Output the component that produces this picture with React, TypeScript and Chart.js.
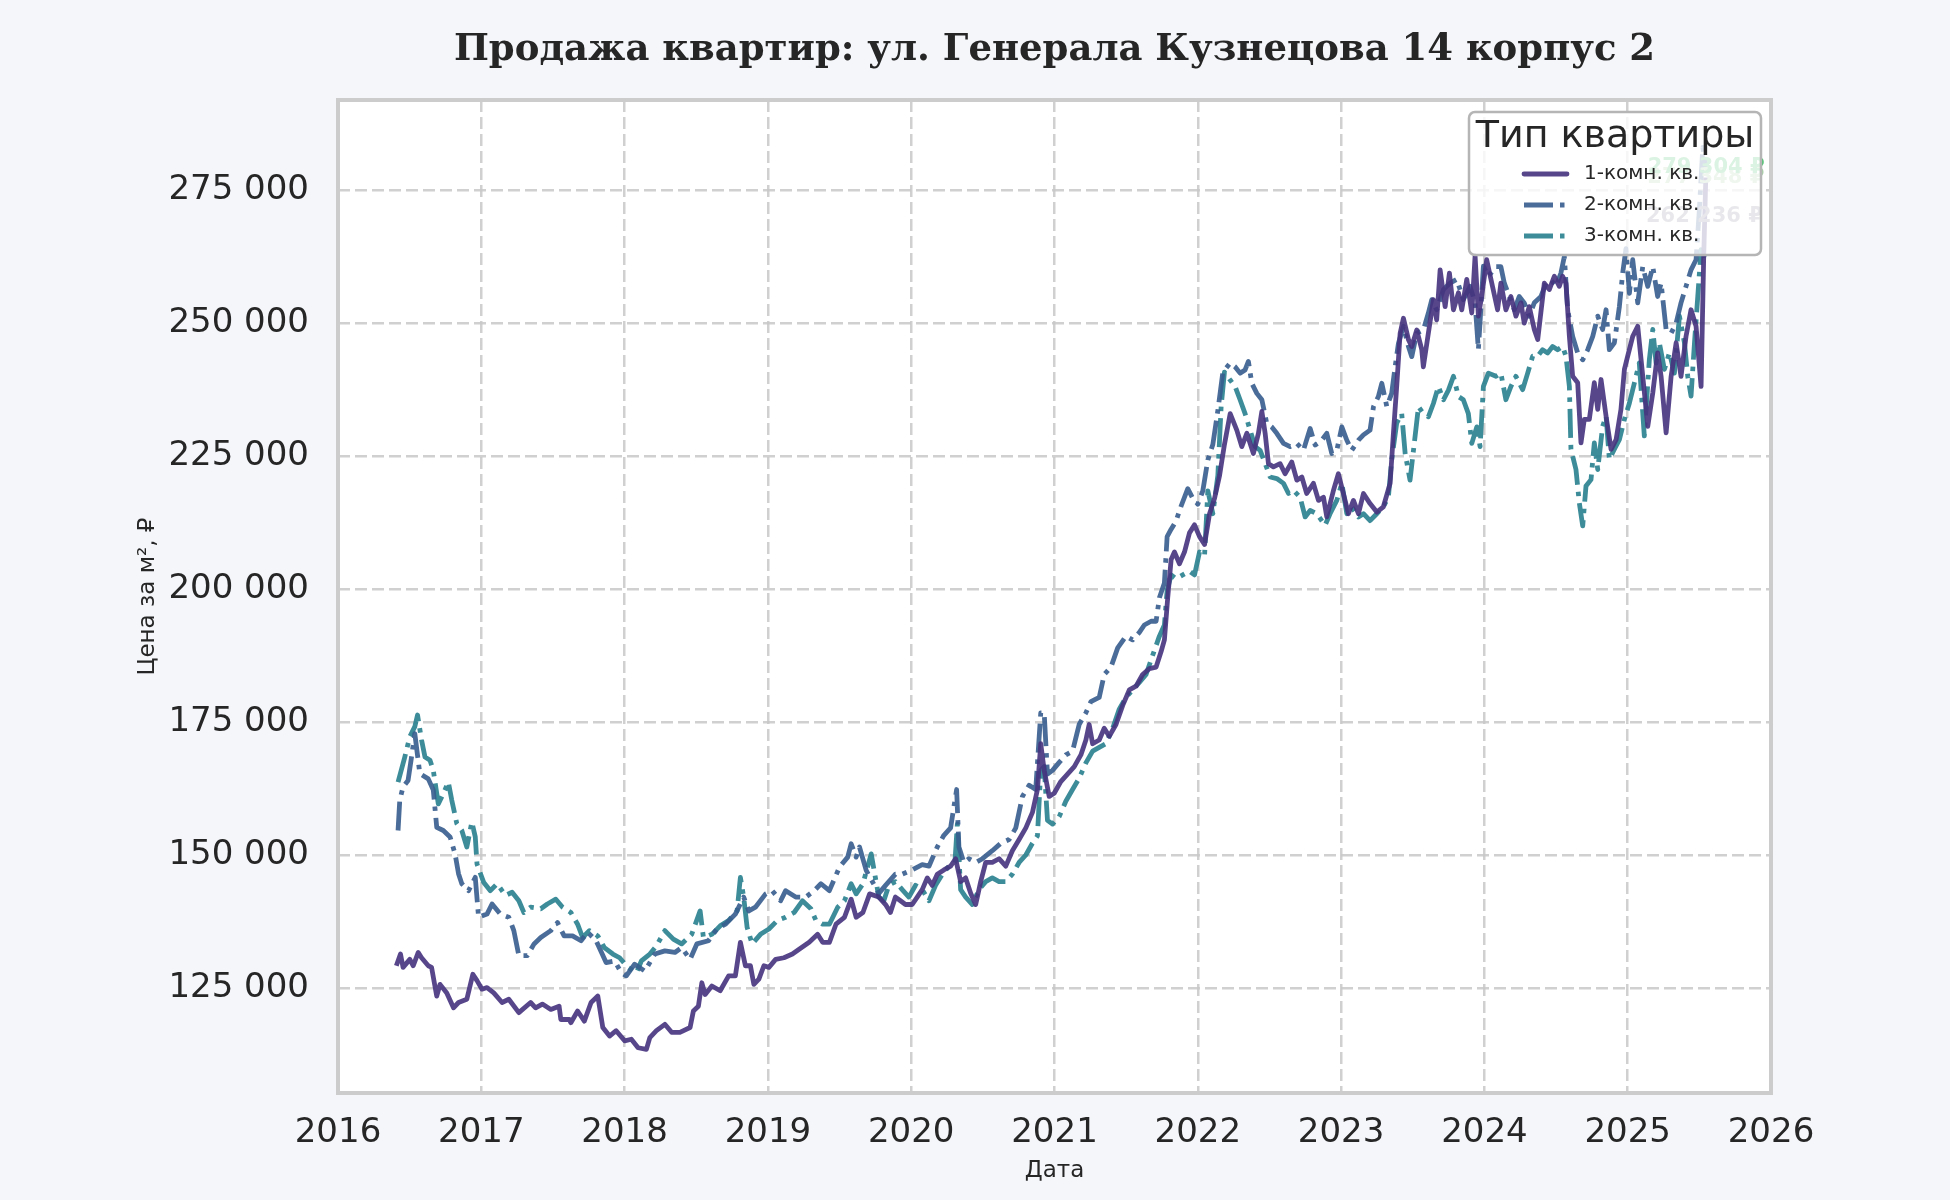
import React, { useEffect, useRef } from 'react';
import { Chart, registerables } from 'chart.js';

Chart.register(...registerables);

const TITLE = 'Продажа квартир: ул. Генерала Кузнецова 14 корпус 2';
const X_TITLE = 'Дата';
const Y_TITLE = 'Цена за м², ₽';
const LEGEND_TITLE = 'Тип квартиры';

const seriesNames = ['1-комн. кв.', '2-комн. кв.', '3-комн. кв.'];
const seriesColors = ['rgba(70, 50, 126, 0.9)', 'rgba(54, 92, 141, 0.9)', 'rgba(39, 127, 142, 0.9)'];
const seriesDashes: number[][] = [[], [29, 7, 4.5, 7], [29, 7, 4.5, 7]];

const xTicks = [2016, 2017, 2018, 2019, 2020, 2021, 2022, 2023, 2024, 2025, 2026];
const yTicks = [125000, 150000, 175000, 200000, 225000, 250000, 275000];

// last-value labels (colour, vertical shift in px)
const lastLabelColors = ['#a9cfa9', '#4ac16d', '#8e8e9e'];
const lastLabelShift = [0, 0, -41];

// [date as decimal year, price per m²]
const oneRoom: [number, number][] = [
  [2016.407,129300],[2016.436,131500],[2016.454,129000],[2016.501,130500],[2016.525,129300],[2016.560,131800],[2016.583,130800],[2016.630,129300],[2016.653,129000],[2016.689,123600],[2016.712,125800],[2016.759,124200],[2016.806,121400],[2016.841,122400],[2016.899,123000],[2016.941,127700],[2016.970,126500],[2017.005,124900],[2017.040,125200],[2017.087,124200],[2017.145,122400],[2017.192,123000],[2017.262,120500],[2017.344,122400],[2017.379,121400],[2017.426,122100],[2017.485,121100],[2017.543,121700],[2017.555,119200],[2017.614,119200],[2017.625,118600],[2017.672,120800],[2017.719,118900],[2017.766,122400],[2017.813,123600],[2017.848,117700],[2017.895,116100],[2017.941,117100],[2018.000,115200],[2018.047,115500],[2018.094,113900],[2018.152,113600],[2018.176,115800],[2018.222,117100],[2018.281,118300],[2018.328,116800],[2018.386,116800],[2018.457,117700],[2018.480,120800],[2018.515,121700],[2018.539,126100],[2018.562,123900],[2018.609,125500],[2018.667,124600],[2018.726,127400],[2018.773,127400],[2018.808,133700],[2018.843,129300],[2018.878,129300],[2018.902,125800],[2018.937,126800],[2018.972,129300],[2019.007,129000],[2019.054,130500],[2019.112,130800],[2019.171,131500],[2019.218,132400],[2019.288,133700],[2019.347,135200],[2019.382,133700],[2019.429,133700],[2019.475,137100],[2019.534,138400],[2019.581,141800],[2019.616,138400],[2019.663,139300],[2019.710,142800],
  [2019.774,142200],[2019.821,140800],[2019.855,139300],[2019.890,142200],[2019.925,141500],[2019.960,140800],[2020.007,140800],[2020.042,142200],[2020.077,143600],[2020.112,145800],[2020.147,144400],[2020.182,146500],[2020.228,147300],[2020.275,148000],[2020.310,149400],[2020.345,145100],[2020.380,145800],[2020.415,142900],[2020.450,140800],[2020.485,145100],[2020.520,148700],[2020.566,148700],[2020.613,149400],[2020.660,148000],[2020.706,150900],[2020.753,153000],[2020.800,155200],[2020.846,158100],[2020.881,162400],[2020.904,171000],[2020.928,166000],[2020.963,161100],[2020.998,161700],[2021.044,163900],[2021.091,165300],[2021.138,166700],[2021.184,168900],[2021.219,171700],[2021.242,174600],[2021.266,171000],[2021.312,171700],[2021.347,173900],[2021.382,172400],[2021.429,174600],[2021.476,178200],[2021.522,181100],[2021.569,181800],[2021.615,184000],[2021.662,185100],[2021.709,185400],[2021.744,188300],[2021.767,190500],[2021.790,198400],[2021.814,205600],[2021.837,207000],[2021.872,204800],[2021.907,207000],[2021.942,210600],[2021.977,212100],[2022.012,209900],[2022.047,208400],[2022.082,214200],[2022.117,217100],[2022.152,221400],[2022.186,227200],[2022.226,233000],
  [2022.272,229900],[2022.307,226800],[2022.342,229300],[2022.388,225500],[2022.423,229300],[2022.447,233400],[2022.470,229300],[2022.493,223600],[2022.528,223000],[2022.574,223600],[2022.609,221700],[2022.656,223900],[2022.691,220500],[2022.726,221100],[2022.760,218000],[2022.807,219900],[2022.842,216700],[2022.877,217300],[2022.900,213600],[2022.947,218600],[2022.981,221700],[2023.016,218000],[2023.051,214200],[2023.086,216700],[2023.121,214200],[2023.156,218000],[2023.202,216100],[2023.249,214500],[2023.295,215500],[2023.342,219900],[2023.365,229300],[2023.388,238100],[2023.412,248100],[2023.435,250900],[2023.470,246900],[2023.493,245600],[2023.528,248700],[2023.563,245000],[2023.574,241800],[2023.609,248100],[2023.644,254400],[2023.667,250600],[2023.691,260000],[2023.726,253100],[2023.756,259400],[2023.784,252500],[2023.819,255700],[2023.842,252500],[2023.877,258200],[2023.912,251900],[2023.935,262600],[2023.958,251300],[2023.981,255000],[2024.016,261900],
  [2024.092,252500],[2024.115,257500],[2024.150,252500],[2024.185,255000],[2024.220,251300],[2024.255,253800],[2024.278,250000],[2024.313,253100],[2024.348,248800],[2024.372,246900],[2024.418,257500],[2024.453,256300],[2024.488,258800],[2024.523,256900],[2024.546,258800],[2024.569,257500],[2024.593,247500],[2024.616,240000],[2024.651,238800],[2024.674,227500],[2024.697,231900],[2024.732,231900],[2024.767,238800],[2024.791,233800],[2024.814,239400],[2024.849,232500],[2024.884,226300],[2024.919,228100],[2024.953,233800],[2024.977,241300],[2025.000,243800],[2025.035,247500],[2025.070,249400],[2025.105,240000],[2025.140,230600],[2025.175,236900],[2025.209,244400],[2025.233,240000],[2025.268,229400],[2025.303,240000],[2025.338,246300],[2025.372,240000],[2025.407,247500],[2025.442,252500],[2025.477,249400],[2025.512,238100],[2025.530,262000],[2025.545,277348],
];

const twoRoom: [number, number][] = [
  [2016.419,154700],[2016.431,160400],[2016.454,162900],[2016.489,164100],[2016.513,168500],[2016.536,172900],[2016.571,165400],[2016.630,164400],[2016.665,162300],[2016.689,155300],[2016.735,154700],[2016.782,153500],[2016.817,150300],[2016.841,146600],[2016.864,144700],[2016.911,143400],[2016.958,145900],[2016.981,138400],[2017.040,139000],[2017.075,140900],[2017.133,139000],[2017.192,138400],[2017.227,135900],[2017.262,131200],[2017.321,131200],[2017.368,133400],[2017.415,134600],[2017.485,135900],[2017.532,137400],[2017.578,134900],[2017.637,134900],[2017.696,134000],[2017.742,135600],[2017.801,134000],[2017.871,129900],[2017.930,130200],[2017.977,128000],[2018.012,127400],[2018.070,129600],[2018.141,128300],[2018.211,131500],[2018.281,132100],[2018.351,131800],[2018.398,132700],[2018.457,130500],[2018.504,133400],[2018.585,134000],[2018.644,136200],[2018.703,137100],[2018.773,139000],[2018.831,142200],[2018.867,139600],[2018.913,140300],[2018.984,142800],[2019.030,143400],[2019.089,141500],[2019.124,143400],[2019.194,142200],[2019.265,142200],[2019.323,143400],[2019.370,144700],[2019.429,143400],[2019.499,147800],[2019.557,149700],[2019.581,152200],[2019.616,149700],[2019.639,151600],[2019.686,147200],
  [2019.774,142900],[2019.821,144400],[2019.890,146500],[2019.937,146500],[2020.007,147300],[2020.077,148300],[2020.124,148000],[2020.182,151600],[2020.228,153800],[2020.275,155200],[2020.317,162400],[2020.333,151600],[2020.368,148700],[2020.403,149400],[2020.450,148700],[2020.497,149400],[2020.566,150900],[2020.625,152300],[2020.683,153000],[2020.730,155200],[2020.776,161100],[2020.823,163200],[2020.869,162400],[2020.904,176800],[2020.928,176800],[2020.951,165300],[2020.986,166000],[2021.033,167500],[2021.079,168900],[2021.126,169600],[2021.172,174600],[2021.219,176800],[2021.254,178900],[2021.312,179700],[2021.347,184000],[2021.394,185400],[2021.441,189000],[2021.499,191200],[2021.545,190500],[2021.592,191900],[2021.627,193300],[2021.674,194000],[2021.709,194000],[2021.732,198400],[2021.767,201200],[2021.786,209900],[2021.814,211300],[2021.848,212800],[2021.883,215600],[2021.930,218900],[2021.965,217100],[2022.000,216000],[2022.035,218500],[2022.070,224300],[2022.105,227200],[2022.140,233600],[2022.175,240800],[2022.226,242500],
  [2022.260,241800],[2022.295,240600],[2022.330,241200],[2022.353,242800],[2022.377,238700],[2022.412,236800],[2022.447,235600],[2022.481,231200],[2022.516,230500],[2022.551,229300],[2022.598,227400],[2022.644,226800],[2022.691,227400],[2022.737,226100],[2022.784,230200],[2022.819,227100],[2022.865,228000],[2022.900,229300],[2022.935,225500],[2022.970,226100],[2023.005,230500],[2023.040,228000],[2023.074,226100],[2023.121,228000],[2023.156,229000],[2023.202,229900],[2023.226,234300],[2023.260,236200],[2023.284,238700],[2023.319,234300],[2023.353,236800],[2023.377,241800],[2023.400,246200],[2023.435,249400],[2023.470,245600],[2023.493,243700],[2023.528,248100],[2023.574,248700],[2023.609,251900],[2023.633,254400],[2023.667,252500],[2023.714,256300],[2023.760,257500],[2023.807,258200],[2023.853,254400],[2023.900,256900],[2023.935,253800],[2023.958,245000],[2023.993,260700],[2024.028,258800],
  [2024.081,260600],[2024.115,260600],[2024.139,257500],[2024.174,255000],[2024.209,252500],[2024.243,255000],[2024.278,253800],[2024.313,251300],[2024.348,253800],[2024.395,255000],[2024.430,257500],[2024.465,258100],[2024.500,256900],[2024.534,259400],[2024.558,262500],[2024.581,252500],[2024.616,247500],[2024.651,244400],[2024.686,243100],[2024.721,245000],[2024.756,247500],[2024.791,251300],[2024.825,248800],[2024.849,252500],[2024.872,245000],[2024.907,246300],[2024.942,253100],[2024.965,259400],[2024.988,264000],[2025.012,255600],[2025.035,261900],[2025.070,253800],[2025.105,260600],[2025.140,256900],[2025.175,260600],[2025.209,255000],[2025.233,257500],[2025.268,248800],[2025.303,248100],[2025.338,250000],[2025.372,253800],[2025.407,256900],[2025.442,260000],[2025.477,261900],[2025.500,271300],[2025.524,283000],[2025.547,279304],
];

const threeRoom: [number, number][] = [
  [2016.419,163800],[2016.466,168500],[2016.501,172300],[2016.536,174200],[2016.555,176400],[2016.583,171700],[2016.607,168500],[2016.642,167900],[2016.665,166000],[2016.700,159700],[2016.735,161600],[2016.770,163800],[2016.794,160400],[2016.829,156000],[2016.864,154700],[2016.899,151600],[2016.934,156300],[2016.958,153500],[2016.970,148400],[2017.016,145000],[2017.063,143400],[2017.110,144700],[2017.169,142500],[2017.215,143100],[2017.262,141500],[2017.297,139300],[2017.344,140300],[2017.415,140000],[2017.461,140900],[2017.520,141800],[2017.567,140300],[2017.625,139300],[2017.672,137100],[2017.707,134600],[2017.754,135900],[2017.813,134900],[2017.859,132700],[2017.918,131500],[2017.965,130800],[2018.023,129000],[2018.082,128000],[2018.117,130200],[2018.176,131500],[2018.222,133000],[2018.281,135900],[2018.340,134300],[2018.398,133400],[2018.468,135200],[2018.527,139600],[2018.550,134600],[2018.609,135200],[2018.667,136800],[2018.726,137800],[2018.785,139600],[2018.808,145900],[2018.831,142200],[2018.855,136500],[2018.890,133400],[2018.948,135200],[2019.007,136200],[2019.066,137800],[2019.124,138400],[2019.183,139300],[2019.241,141500],[2019.300,140000],[2019.335,137800],[2019.382,137100],[2019.429,137100],[2019.487,140300],[2019.534,141500],[2019.581,144700],[2019.616,142800],[2019.663,144700],[2019.721,150300],
  [2019.774,142200],[2019.809,141500],[2019.844,144400],[2019.890,145100],[2019.937,143600],[2019.984,142200],[2020.030,144400],[2020.077,143600],[2020.124,141500],[2020.170,144400],[2020.217,146500],[2020.263,148000],[2020.305,148700],[2020.322,155900],[2020.345,143600],[2020.380,142200],[2020.427,140800],[2020.473,143600],[2020.520,145100],[2020.566,145800],[2020.613,145100],[2020.660,145100],[2020.706,146500],[2020.753,148700],[2020.800,150100],[2020.846,152300],[2020.881,153700],[2020.904,166000],[2020.928,166700],[2020.951,156600],[2020.986,155900],[2021.033,157300],[2021.079,160200],[2021.126,162400],[2021.172,164500],[2021.219,167400],[2021.266,169600],[2021.312,170300],[2021.359,171000],[2021.406,173900],[2021.452,177500],[2021.499,179700],[2021.545,181100],[2021.592,182500],[2021.639,184000],[2021.685,187600],[2021.732,191200],[2021.767,193300],[2021.786,199800],[2021.814,202700],[2021.848,202000],[2021.895,202700],[2021.942,203400],[2021.977,202700],[2022.012,207000],[2022.047,206300],[2022.070,218500],[2022.105,214200],[2022.140,221400],[2022.163,234400],[2022.186,240800],[2022.226,239300],
  [2022.260,238100],[2022.295,235600],[2022.330,233000],[2022.365,229900],[2022.400,226800],[2022.435,226100],[2022.470,223600],[2022.505,221100],[2022.551,220800],[2022.598,219900],[2022.633,218000],[2022.667,218600],[2022.714,217300],[2022.749,213600],[2022.784,214800],[2022.830,214200],[2022.888,212000],[2022.923,214200],[2022.970,216700],[2023.005,219900],[2023.040,214200],[2023.074,215500],[2023.121,213600],[2023.156,214200],[2023.202,212900],[2023.249,214200],[2023.295,215500],[2023.330,217300],[2023.353,224300],[2023.388,231200],[2023.423,233000],[2023.447,225500],[2023.481,220500],[2023.505,226100],[2023.540,234300],[2023.574,233000],[2023.609,232400],[2023.644,234900],[2023.679,238100],[2023.714,235600],[2023.749,237400],[2023.784,240000],[2023.819,236200],[2023.853,235600],[2023.888,233000],[2023.912,227400],[2023.947,230500],[2023.970,226800],[2023.993,238100],[2024.028,240600],
  [2024.081,240000],[2024.115,240600],[2024.150,235600],[2024.185,238100],[2024.220,240000],[2024.267,237500],[2024.302,240600],[2024.337,243800],[2024.372,243800],[2024.406,245000],[2024.441,244400],[2024.476,245600],[2024.511,245000],[2024.546,245600],[2024.569,243800],[2024.593,238100],[2024.604,226300],[2024.639,222500],[2024.662,216300],[2024.686,211900],[2024.709,219400],[2024.744,220600],[2024.767,227500],[2024.791,222500],[2024.825,230600],[2024.849,232500],[2024.872,224400],[2024.907,226300],[2024.942,228100],[2024.977,231900],[2025.012,235000],[2025.047,238800],[2025.081,242500],[2025.116,228800],[2025.151,243100],[2025.175,248800],[2025.198,242500],[2025.221,246300],[2025.256,241300],[2025.291,244400],[2025.326,240600],[2025.361,251300],[2025.396,246300],[2025.419,240000],[2025.442,236300],[2025.466,246300],[2025.489,255000],[2025.512,263800],[2025.535,262236],
];

const seriesData = [oneRoom, twoRoom, threeRoom];

const TEXT = '#262626';
const SANS = '"DejaVu Sans", sans-serif';

const fmt = (v: number) => String(Math.round(v)).replace(/\B(?=(\d{3})+(?!\d))/g, ' ');

const backgroundPlugin = {
  id: 'figureBackground',
  beforeDraw(chart: any) {
    const { ctx, chartArea: a, width, height } = chart;
    ctx.save();
    ctx.fillStyle = '#f5f6fa';
    ctx.fillRect(0, 0, width, height);
    ctx.fillStyle = '#ffffff';
    ctx.fillRect(a.left, a.top, a.right - a.left, a.bottom - a.top);
    ctx.restore();
  },
};

// last-value labels and the plot frame
const overlayPlugin = {
  id: 'overlay',
  afterDatasetsDraw(chart: any) {
    const { ctx, chartArea: a } = chart;
    ctx.save();
    ctx.font = `bold 21px ${SANS}`;
    ctx.textAlign = 'center';
    ctx.textBaseline = 'middle';
    chart.data.datasets.forEach((ds: any, i: number) => {
      const meta = chart.getDatasetMeta(i);
      const pt = meta.data[meta.data.length - 1];
      const last = ds.data[ds.data.length - 1];
      ctx.fillStyle = lastLabelColors[i];
      ctx.fillText(`${fmt(last.y)} ₽`, pt.x, pt.y + lastLabelShift[i]);
    });
    ctx.strokeStyle = '#cccccc';
    ctx.lineWidth = 4;
    ctx.strokeRect(a.left, a.top, a.right - a.left, a.bottom - a.top);
    ctx.restore();
  },
};

const legendPlugin = {
  id: 'boxLegend',
  afterDraw(chart: any) {
    const { ctx, chartArea: a } = chart;
    const w = 292;
    const h = 143;
    const x = a.right - 10 - w;
    const y = a.top + 12;
    const r = 6;
    ctx.save();
    ctx.beginPath();
    ctx.moveTo(x + r, y);
    ctx.arcTo(x + w, y, x + w, y + h, r);
    ctx.arcTo(x + w, y + h, x, y + h, r);
    ctx.arcTo(x, y + h, x, y, r);
    ctx.arcTo(x, y, x + w, y, r);
    ctx.closePath();
    ctx.fillStyle = 'rgba(255, 255, 255, 0.8)';
    ctx.fill();
    ctx.strokeStyle = '#b5b5b5';
    ctx.lineWidth = 2.5;
    ctx.stroke();

    ctx.fillStyle = TEXT;
    ctx.textBaseline = 'middle';
    ctx.textAlign = 'center';
    ctx.font = `38px ${SANS}`;
    ctx.fillText(LEGEND_TITLE, x + w / 2, y + 25);

    ctx.textAlign = 'left';
    ctx.font = `20px ${SANS}`;
    chart.data.datasets.forEach((ds: any, i: number) => {
      const rowY = y + 62 + i * 31;
      ctx.save();
      ctx.strokeStyle = ds.borderColor;
      ctx.lineWidth = ds.borderWidth;
      ctx.setLineDash(ds.borderDash);
      ctx.lineCap = ds.borderDash.length ? 'butt' : 'round';
      ctx.beginPath();
      ctx.moveTo(x + 55, rowY);
      ctx.lineTo(x + 98, rowY);
      ctx.stroke();
      ctx.restore();
      ctx.fillStyle = TEXT;
      ctx.fillText(ds.label, x + 115, rowY);
    });
    ctx.restore();
  },
};

const App: React.FC = () => {
  const canvasRef = useRef<HTMLCanvasElement>(null);
  const chartRef = useRef<Chart | null>(null);

  useEffect(() => {
    document.body.style.margin = '0';
    if (!canvasRef.current) return;
    if (chartRef.current) chartRef.current.destroy();

    const gridColor = 'rgba(200, 200, 200, 0.85)';

    chartRef.current = new Chart(canvasRef.current, {
      type: 'line',
      data: {
        datasets: seriesData.map((series, i) => ({
          label: seriesNames[i],
          data: series.map(([x, y]) => ({ x, y })),
          borderColor: seriesColors[i],
          borderWidth: 4.8,
          borderDash: seriesDashes[i],
          borderJoinStyle: 'round' as const,
          borderCapStyle: 'butt' as const,
          pointRadius: 0,
          tension: 0,
          fill: false,
        })),
      },
      options: {
        responsive: false,
        animation: false,
        layout: { padding: { left: 0, right: 179, top: 0, bottom: 0 } },
        plugins: {
          legend: { display: false },
          tooltip: { enabled: false },
          title: {
            display: true,
            text: TITLE,
            fullSize: false,
            color: TEXT,
            font: { family: '"DejaVu Serif", serif', size: 37, weight: 'bold' },
            padding: { top: 28, bottom: 27.6 },
          },
        },
        scales: {
          x: {
            type: 'linear',
            min: 2016,
            max: 2026,
            afterBuildTicks: (s: any) => {
              s.ticks = xTicks.map((v) => ({ value: v }));
            },
            afterFit: (s: any) => {
              s.height = 107;
            },
            ticks: {
              color: TEXT,
              font: { family: SANS, size: 34 },
              padding: 20,
              maxRotation: 0,
              autoSkip: false,
              callback: (v: any) => String(v),
            },
            grid: { color: gridColor, lineWidth: 2.5, drawTicks: false },
            border: { display: false, dash: [12, 5] },
            title: {
              display: true,
              text: X_TITLE,
              color: TEXT,
              font: { family: SANS, size: 23 },
              padding: { top: 0, bottom: 15 },
            },
          },
          y: {
            type: 'linear',
            min: 105400,
            max: 291900,
            afterBuildTicks: (s: any) => {
              s.ticks = yTicks.map((v) => ({ value: v }));
            },
            afterFit: (s: any) => {
              s.width = 338;
            },
            ticks: {
              color: TEXT,
              font: { family: SANS, size: 34 },
              padding: 29,
              callback: (v: any) => fmt(Number(v)),
            },
            grid: { color: gridColor, lineWidth: 2.5, drawTicks: false },
            border: { display: false, dash: [12, 5] },
            title: {
              display: true,
              text: Y_TITLE,
              color: TEXT,
              font: { family: SANS, size: 23 },
              padding: { top: 134, bottom: 0 },
            },
          },
        },
      },
      plugins: [backgroundPlugin, overlayPlugin, legendPlugin],
    });

    return () => {
      if (chartRef.current) {
        chartRef.current.destroy();
        chartRef.current = null;
      }
    };
  }, []);

  return (
    <div style={{ width: 1950, height: 1200, background: '#f5f6fa' }}>
      <canvas ref={canvasRef} width={1950} height={1200} />
    </div>
  );
};

export default App;
